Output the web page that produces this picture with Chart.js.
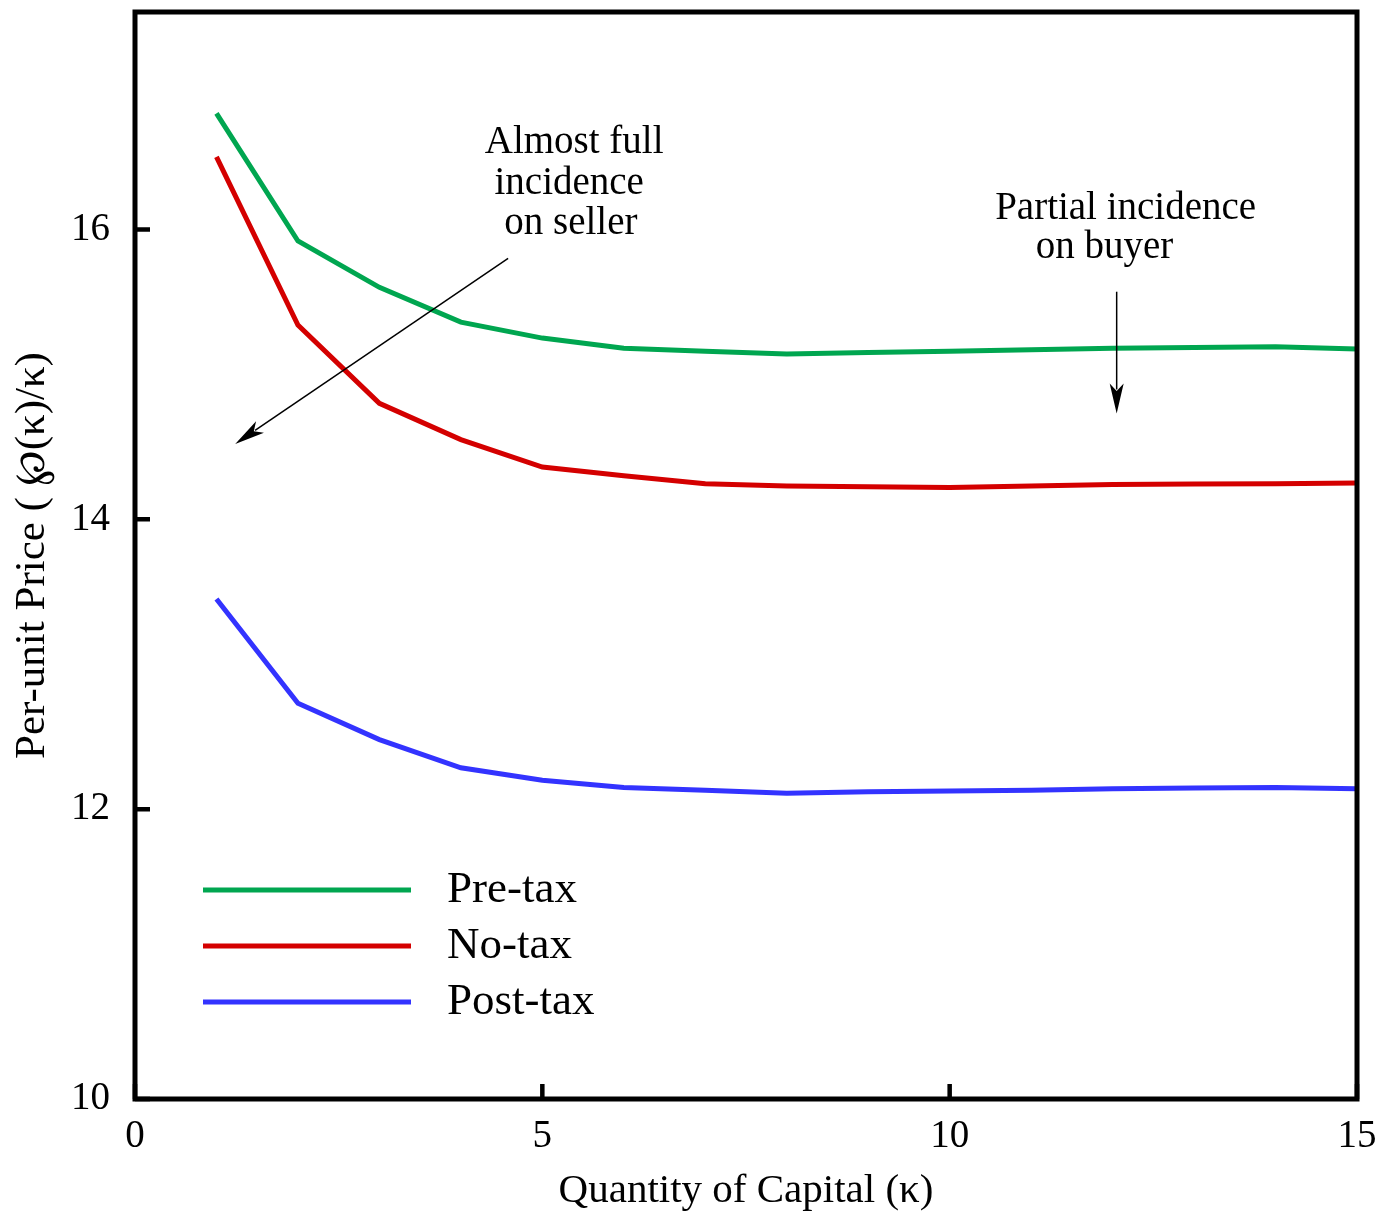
<!DOCTYPE html>
<html>
<head>
<meta charset="utf-8">
<style>
  body { margin: 0; background: #fff; }
  canvas { display: block; }
</style>
<script src="https://cdn.jsdelivr.net/npm/chart.js@4.4.1/dist/chart.umd.min.js"></script>
</head>
<body>
<canvas id="priceChart" width="1380" height="1216"></canvas>
<script>
// quantity of capital (kappa)
const kappa = [1, 2, 3, 4, 5, 6, 7, 8, 9, 10, 11, 12, 13, 14, 15];
// per-unit price for each case
const preTax  = [16.80, 15.92, 15.60, 15.36, 15.25, 15.18, 15.16, 15.14, 15.15, 15.16, 15.17, 15.18, 15.185, 15.19, 15.175];
const noTax   = [16.50, 15.34, 14.80, 14.55, 14.36, 14.30, 14.245, 14.23, 14.225, 14.22, 14.23, 14.24, 14.243, 14.245, 14.25];
const postTax = [13.45, 12.73, 12.48, 12.285, 12.20, 12.15, 12.13, 12.11, 12.12, 12.125, 12.13, 12.14, 12.145, 12.15, 12.14];
const seriesNames = ["Pre-tax", "No-tax", "Post-tax"];
const seriesColors = ["#00a650", "#d40000", "#3333ff"];

const FONT = "'Liberation Serif', 'Times New Roman', serif";

function pts(vals) {
    return kappa.map((k, i) => ({x: k, y: vals[i]}));
}

function arrow(ctx, x1, y1, x2, y2) {
    const ang = Math.atan2(y2 - y1, x2 - x1);
    const len = 30, half = 7;
    ctx.beginPath();
    ctx.moveTo(x1, y1);
    ctx.lineTo(x2 - Math.cos(ang) * len * 0.8, y2 - Math.sin(ang) * len * 0.8);
    ctx.stroke();
    ctx.beginPath();
    ctx.moveTo(x2, y2);
    ctx.lineTo(x2 - Math.cos(ang) * len - Math.sin(ang) * half, y2 - Math.sin(ang) * len + Math.cos(ang) * half);
    ctx.lineTo(x2 - Math.cos(ang) * len * 0.75, y2 - Math.sin(ang) * len * 0.75);
    ctx.lineTo(x2 - Math.cos(ang) * len + Math.sin(ang) * half, y2 - Math.sin(ang) * len - Math.cos(ang) * half);
    ctx.closePath();
    ctx.fill();
}

// frame, inward ticks, legend and the two notes
const extras = {
    id: "extras",
    afterDatasetsDraw(chart) {
        const {ctx, chartArea: a, scales: {x, y}} = chart;
        ctx.save();
        ctx.strokeStyle = "#000";
        ctx.fillStyle = "#000";
        ctx.lineWidth = 5;
        ctx.strokeRect(a.left, a.top, a.right - a.left, a.bottom - a.top);

        ctx.lineWidth = 4.5;
        ctx.beginPath();
        x.ticks.forEach(t => {
            const px = x.getPixelForValue(t.value);
            ctx.moveTo(px, a.bottom);
            ctx.lineTo(px, a.bottom - 15);
        });
        y.ticks.forEach(t => {
            const py = y.getPixelForValue(t.value);
            ctx.moveTo(a.left, py);
            ctx.lineTo(a.left + 15, py);
        });
        ctx.stroke();

        // legend
        ctx.font = "45px " + FONT;
        ctx.textBaseline = "middle";
        ctx.textAlign = "left";
        chart.data.datasets.forEach((ds, i) => {
            const ly = a.bottom - 209 + i * 56;
            ctx.strokeStyle = ds.borderColor;
            ctx.lineWidth = 5;
            ctx.beginPath();
            ctx.moveTo(a.left + 68, ly);
            ctx.lineTo(a.left + 276, ly);
            ctx.stroke();
            ctx.fillStyle = "#000";
            ctx.fillText(ds.label, a.left + 312, ly);
        });

        // notes
        ctx.font = "39px " + FONT;
        ctx.textBaseline = "alphabetic";
        ctx.textAlign = "center";
        ctx.fillText("Almost full", x.getPixelForValue(5.39), y.getPixelForValue(16.526));
        ctx.fillText("incidence", x.getPixelForValue(5.33), y.getPixelForValue(16.246));
        ctx.fillText("on seller", x.getPixelForValue(5.35), y.getPixelForValue(15.971));
        ctx.fillText("Partial incidence", x.getPixelForValue(12.16), y.getPixelForValue(16.074));
        ctx.fillText("on buyer", x.getPixelForValue(11.90), y.getPixelForValue(15.805));

        ctx.strokeStyle = "#000";
        ctx.lineWidth = 1.5;
        arrow(ctx, x.getPixelForValue(4.58), y.getPixelForValue(15.80),
                   x.getPixelForValue(1.23), y.getPixelForValue(14.52));
        arrow(ctx, x.getPixelForValue(12.05), y.getPixelForValue(15.57),
                   x.getPixelForValue(12.05), y.getPixelForValue(14.73));
        ctx.restore();
    }
};

const ctx = document.getElementById("priceChart").getContext("2d");
const priceChart = new Chart(ctx, {
    type: "line",
    data: {
        datasets: [preTax, noTax, postTax].map((vals, i) => ({
            label: seriesNames[i],
            data: pts(vals),
            borderColor: seriesColors[i],
            backgroundColor: seriesColors[i],
            borderWidth: 5,
            pointRadius: 0,
            tension: 0,
            fill: false
        }))
    },
    options: {
        responsive: false,
        animation: false,
        layout: { padding: { left: 0, top: 12, right: 23, bottom: 0 } },
        plugins: {
            legend: { display: false },
            tooltip: { enabled: false }
        },
        scales: {
            x: {
                type: "linear",
                min: 0,
                max: 15,
                grid: { display: false },
                border: { display: false },
                ticks: { stepSize: 5, padding: 6, color: "#000", maxRotation: 0,
                         font: { family: FONT, size: 39 } },
                title: { display: true, text: "Quantity of Capital (κ)", color: "#000",
                         padding: { top: 0, bottom: 0 }, font: { family: FONT, size: 41 } },
                afterFit: s => { s.height = 117; s.paddingLeft = 0; s.paddingRight = 0; }
            },
            y: {
                type: "linear",
                min: 10,
                max: 17.5,
                grid: { display: false },
                border: { display: false },
                ticks: { stepSize: 2, includeBounds: false, padding: 17, color: "#000",
                         font: { family: FONT, size: 39 } },
                title: { display: true, text: "Per-unit Price ( \u2118(κ)/κ)", color: "#000",
                         padding: { top: 7, bottom: 0 }, font: { family: FONT, size: 43 } },
                afterFit: s => { s.width = 135; s.paddingTop = 0; s.paddingBottom = 0; }
            }
        }
    },
    plugins: [extras]
});
</script>
</body>
</html>
